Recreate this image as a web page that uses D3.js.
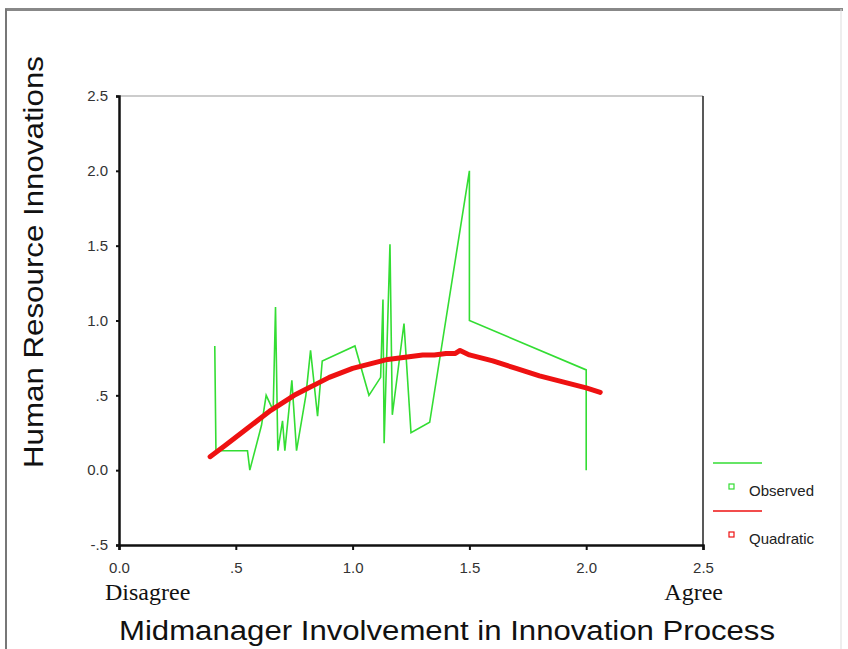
<!DOCTYPE html>
<html>
<head>
<meta charset="utf-8">
<script src="https://cdn.jsdelivr.net/npm/d3@7"></script>
<style>
  body { margin: 0; background: #fff; }
  svg { display: block; }
</style>
</head>
<body>
<div id="chart"></div>
<script>
// observed values (x = involvement, y = HR innovations), in plotting order
const obsX = [0.41, 0.415, 0.55, 0.56, 0.61, 0.63, 0.66, 0.67, 0.68, 0.70, 0.71, 0.74, 0.76, 0.80, 0.82, 0.85, 0.87, 1.01, 1.07, 1.12, 1.13, 1.135, 1.16, 1.17, 1.22, 1.25, 1.33, 1.50, 1.50, 2.00, 2.00];
const obsY = [0.83, 0.13, 0.13, 0.00, 0.30, 0.50, 0.40, 1.09, 0.13, 0.33, 0.13, 0.60, 0.13, 0.50, 0.80, 0.36, 0.73, 0.83, 0.50, 0.62, 1.14, 0.18, 1.51, 0.37, 0.98, 0.25, 0.32, 2.00, 1.00, 0.67, 0.00];

// quadratic fit
const fitX = [0.39, 0.45, 0.50, 0.55, 0.60, 0.65, 0.70, 0.75, 0.80, 0.85, 0.90, 0.95, 1.00, 1.05, 1.10, 1.15, 1.20, 1.25, 1.30, 1.35, 1.40, 1.44, 1.46, 1.50, 1.55, 1.60, 1.70, 1.80, 1.90, 2.00, 2.06];
const fitY = [0.09, 0.16, 0.22, 0.28, 0.34, 0.40, 0.45, 0.50, 0.54, 0.58, 0.62, 0.65, 0.68, 0.70, 0.72, 0.74, 0.75, 0.76, 0.77, 0.77, 0.78, 0.78, 0.80, 0.77, 0.75, 0.73, 0.68, 0.63, 0.59, 0.55, 0.52];

const xTicks = [0, 0.5, 1.0, 1.5, 2.0, 2.5];
const yTicks = [-0.5, 0, 0.5, 1.0, 1.5, 2.0, 2.5];
const legendNames = ["Observed", "Quadratic"];
const legendColors = ["#33dd33", "#ee1111"];

const width = 848, height = 649;
const margin = {top: 96, right: 145, bottom: 104, left: 119};

const svg = d3.select("#chart").append("svg")
    .attr("width", width)
    .attr("height", height);

// outer frame
svg.append("line").attr("x1", 5).attr("x2", 843).attr("y1", 9.5).attr("y2", 9.5)
    .attr("stroke", "#888").attr("stroke-width", 3);
svg.append("line").attr("x1", 6).attr("x2", 6).attr("y1", 9).attr("y2", height)
    .attr("stroke", "#777").attr("stroke-width", 2);
svg.append("line").attr("x1", 841).attr("x2", 841).attr("y1", 9).attr("y2", height)
    .attr("stroke", "#ddd").attr("stroke-width", 1);

const x = d3.scaleLinear().domain([0, 2.5]).range([margin.left, width - margin.right]);
const y = d3.scaleLinear().domain([-0.5, 2.5]).range([height - margin.bottom, margin.top]);

// SPSS style: "0.0", ".5", "-.5", "1.0"
const fmt = d => {
    let s = d3.format(".1f")(d).replace("\u2212", "-");
    if (Math.abs(d) > 0 && Math.abs(d) < 1) s = s.replace("0.", ".");
    return s;
};

// top / right box lines
svg.append("line").attr("x1", x(0)).attr("x2", x(2.5)).attr("y1", y(2.5)).attr("y2", y(2.5))
    .attr("stroke", "#999").attr("stroke-width", 1);
svg.append("line").attr("x1", x(2.5)).attr("x2", x(2.5)).attr("y1", y(2.5)).attr("y2", y(-0.5))
    .attr("stroke", "#222").attr("stroke-width", 1.5);

const xAxis = svg.append("g")
    .attr("transform", `translate(0,${y(-0.5)})`)
    .call(d3.axisBottom(x).tickValues(xTicks).tickFormat(fmt).tickSize(5).tickPadding(12));
const yAxis = svg.append("g")
    .attr("transform", `translate(${x(0)},0)`)
    .call(d3.axisLeft(y).tickValues(yTicks).tickFormat(fmt).tickSize(3).tickPadding(8));

[xAxis, yAxis].forEach(g => {
    g.select(".domain").attr("stroke", "#111").attr("stroke-width", 2.5);
    g.selectAll(".tick line").attr("stroke", "#111").attr("stroke-width", 2);
    g.selectAll(".tick text")
        .attr("fill", "#333")
        .style("font-family", "'Liberation Sans', Arial, sans-serif")
        .style("font-size", "15px");
});

// observed line
const obs = obsX.map((d, i) => ({x: d, y: obsY[i]}));
const fit = fitX.map((d, i) => ({x: d, y: fitY[i]}));
const line = d3.line().x(d => x(d.x)).y(d => y(d.y));

svg.append("path").datum(obs)
    .attr("d", line)
    .attr("fill", "none")
    .attr("stroke", legendColors[0])
    .attr("stroke-width", 1.6)
    .attr("stroke-linejoin", "miter");

svg.append("path").datum(fit)
    .attr("d", line)
    .attr("fill", "none")
    .attr("stroke", legendColors[1])
    .attr("stroke-width", 5)
    .attr("stroke-linecap", "round")
    .attr("stroke-linejoin", "round");

// end labels
svg.append("text").attr("x", x(0) - 14).attr("y", 600)
    .style("font-family", "'Liberation Serif', 'Times New Roman', serif")
    .style("font-size", "24px").attr("fill", "#111")
    .text("Disagree");
svg.append("text").attr("x", x(2.5) + 20).attr("y", 600)
    .attr("text-anchor", "end")
    .style("font-family", "'Liberation Serif', 'Times New Roman', serif")
    .style("font-size", "24px").attr("fill", "#111")
    .text("Agree");

// axis titles
svg.append("text")
    .attr("x", 447).attr("y", 640)
    .attr("text-anchor", "middle")
    .attr("textLength", 656).attr("lengthAdjust", "spacingAndGlyphs")
    .style("font-family", "'Liberation Sans', Arial, sans-serif")
    .style("font-size", "27px").attr("fill", "#111")
    .text("Midmanager Involvement in Innovation Process");

svg.append("text")
    .attr("transform", "translate(43,262) rotate(-90)")
    .attr("text-anchor", "middle")
    .attr("textLength", 412).attr("lengthAdjust", "spacingAndGlyphs")
    .style("font-family", "'Liberation Sans', Arial, sans-serif")
    .style("font-size", "27px").attr("fill", "#111")
    .text("Human Resource Innovations");

// legend
const legend = svg.append("g").attr("transform", "translate(713,463)");
legendNames.forEach((name, i) => {
    const g = legend.append("g").attr("transform", `translate(0,${i * 48})`);
    g.append("line").attr("x1", 0).attr("x2", 49).attr("y1", 0).attr("y2", 0)
        .attr("stroke", legendColors[i]).attr("stroke-width", 1.5);
    g.append("rect").attr("x", 16).attr("y", 21).attr("width", 5).attr("height", 5)
        .attr("fill", "none").attr("stroke", legendColors[i]).attr("stroke-width", 1.2);
    g.append("text").attr("x", 36).attr("y", 33)
        .style("font-family", "'Liberation Sans', Arial, sans-serif")
        .style("font-size", "15px").attr("fill", "#222")
        .text(name);
});
</script>
</body>
</html>
